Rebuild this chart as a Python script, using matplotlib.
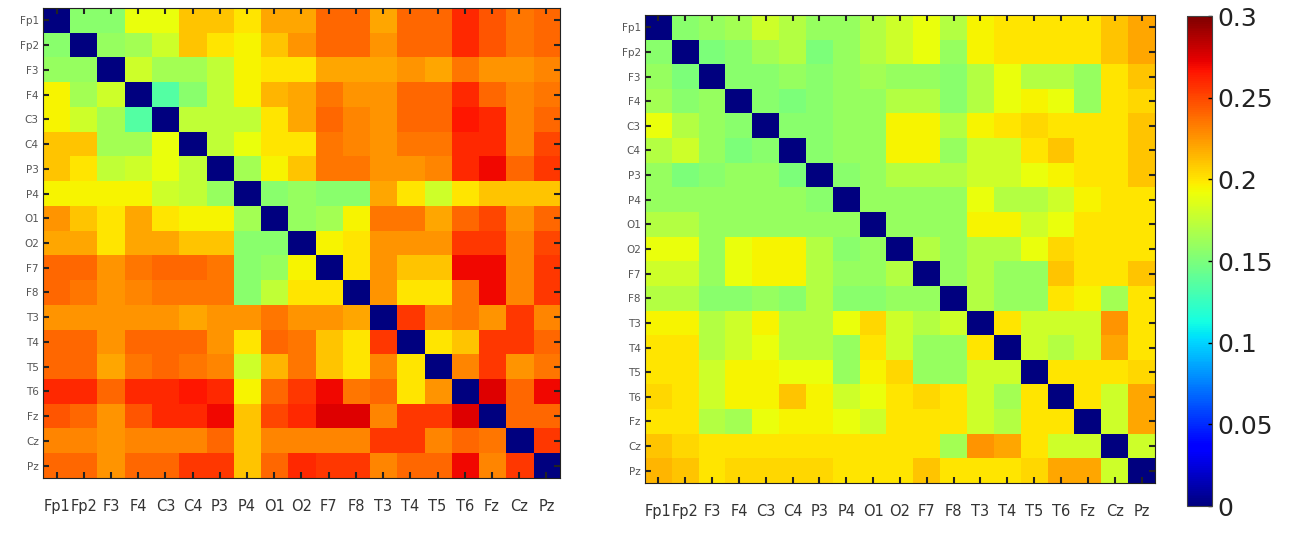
import numpy as np
import matplotlib
matplotlib.use("Agg")
import matplotlib.pyplot as plt

# EEG channels (same order on both axes)
channels = ["Fp1", "Fp2", "F3", "F4", "C3", "C4", "P3", "P4", "O1", "O2",
            "F7", "F8", "T3", "T4", "T5", "T6", "Fz", "Cz", "Pz"]

# left matrix, values
left_vals = [
    [0, .155, .155, .19, .19, .21, .21, .20, .22, .22, .24, .24, .22, .24, .24, .26, .245, .235, .24],
    [.155, 0, .16, .165, .18, .21, .20, .195, .21, .225, .24, .24, .225, .24, .24, .26, .245, .235, .24],
    [.16, .16, 0, .18, .165, .165, .175, .195, .20, .20, .22, .22, .22, .225, .22, .235, .225, .225, .23],
    [.195, .165, .18, 0, .135, .155, .175, .195, .215, .22, .235, .225, .225, .24, .24, .26, .24, .23, .235],
    [.195, .18, .165, .135, 0, .175, .175, .175, .20, .22, .24, .23, .225, .24, .24, .265, .26, .23, .24],
    [.21, .21, .165, .165, .19, 0, .175, .19, .20, .20, .235, .23, .225, .235, .235, .26, .26, .23, .25],
    [.21, .20, .175, .18, .19, .175, 0, .165, .195, .21, .235, .235, .225, .225, .23, .26, .27, .24, .255],
    [.195, .195, .195, .195, .18, .175, .16, 0, .155, .16, .155, .155, .22, .20, .18, .20, .21, .21, .21],
    [.225, .21, .20, .22, .20, .195, .195, .165, 0, .16, .165, .195, .235, .235, .22, .24, .25, .225, .24],
    [.22, .22, .20, .22, .22, .21, .21, .155, .155, 0, .195, .20, .225, .225, .225, .255, .255, .23, .25],
    [.24, .24, .225, .235, .24, .24, .235, .155, .16, .195, 0, .20, .225, .21, .21, .27, .27, .23, .255],
    [.24, .235, .225, .23, .235, .235, .235, .155, .175, .20, .20, 0, .225, .20, .20, .235, .27, .23, .255],
    [.225, .225, .225, .225, .225, .22, .225, .225, .235, .225, .225, .22, 0, .255, .23, .235, .225, .255, .23],
    [.24, .24, .225, .24, .24, .24, .225, .20, .24, .235, .21, .20, .255, 0, .20, .21, .255, .255, .24],
    [.24, .24, .22, .235, .24, .235, .23, .18, .215, .235, .21, .20, .23, .20, 0, .23, .255, .225, .235],
    [.26, .26, .24, .26, .26, .265, .26, .195, .24, .255, .27, .235, .24, .20, .225, 0, .275, .24, .27],
    [.245, .24, .225, .245, .26, .26, .27, .21, .25, .26, .275, .275, .23, .255, .255, .275, 0, .24, .24],
    [.23, .23, .225, .23, .23, .23, .24, .21, .23, .23, .23, .23, .255, .255, .23, .24, .235, 0, .255],
    [.24, .24, .225, .24, .24, .255, .255, .21, .24, .26, .255, .255, .23, .24, .24, .27, .23, .255, 0],
]

# right matrix
right_vals = [
    [0, .155, .16, .165, .18, .17, .16, .16, .17, .18, .19, .17, .195, .20, .20, .20, .20, .21, .22],
    [.155, 0, .15, .155, .165, .17, .15, .16, .17, .18, .19, .16, .195, .20, .20, .20, .20, .21, .22],
    [.16, .15, 0, .155, .155, .16, .155, .16, .165, .16, .16, .155, .17, .19, .17, .17, .16, .20, .21],
    [.165, .155, .16, 0, .155, .15, .155, .16, .16, .17, .17, .155, .17, .19, .195, .19, .16, .20, .205],
    [.19, .17, .16, .155, 0, .155, .155, .16, .16, .195, .195, .17, .195, .20, .205, .20, .20, .20, .21],
    [.17, .18, .16, .15, .155, 0, .155, .16, .16, .195, .195, .16, .18, .18, .20, .21, .20, .20, .21],
    [.16, .15, .155, .16, .16, .15, 0, .155, .16, .17, .17, .17, .18, .18, .19, .195, .20, .20, .21],
    [.16, .16, .16, .16, .16, .16, .155, 0, .16, .16, .16, .16, .19, .17, .17, .18, .195, .20, .20],
    [.17, .17, .16, .16, .16, .16, .16, .16, 0, .16, .16, .16, .195, .195, .18, .19, .20, .20, .20],
    [.19, .19, .16, .19, .195, .195, .17, .155, .16, 0, .17, .16, .17, .17, .19, .205, .20, .20, .20],
    [.18, .18, .16, .19, .195, .195, .17, .16, .16, .17, 0, .16, .17, .16, .16, .21, .20, .20, .21],
    [.17, .17, .155, .155, .16, .155, .17, .155, .155, .16, .16, 0, .17, .16, .16, .20, .195, .165, .20],
    [.195, .195, .17, .18, .195, .17, .17, .19, .205, .18, .17, .18, 0, .20, .18, .18, .18, .225, .20],
    [.20, .20, .17, .18, .19, .17, .17, .16, .20, .18, .16, .16, .20, 0, .18, .17, .18, .22, .20],
    [.20, .20, .18, .195, .195, .19, .19, .16, .195, .205, .16, .16, .18, .18, 0, .20, .20, .20, .205],
    [.205, .20, .18, .195, .195, .21, .195, .18, .19, .20, .205, .20, .18, .165, .20, 0, .20, .18, .22],
    [.20, .20, .17, .165, .19, .195, .195, .19, .18, .20, .20, .20, .18, .17, .20, .20, 0, .18, .22],
    [.21, .205, .20, .20, .20, .20, .20, .20, .20, .20, .20, .165, .225, .22, .20, .18, .18, 0, .18],
    [.215, .21, .20, .205, .205, .205, .205, .20, .20, .20, .21, .20, .20, .20, .205, .22, .22, .18, 0],
]

cbar_ticks = [0, 0.05, 0.1, 0.15, 0.2, 0.25, 0.3]

fig = plt.figure(figsize=(12.9, 5.34), dpi=100)

# axes placed by hand to match the picture
ax_l = fig.add_axes([0.0333, 0.1049, 0.4008, 0.8801])
ax_r = fig.add_axes([0.5, 0.0955, 0.3953, 0.8764])
cax = fig.add_axes([0.9202, 0.0524, 0.0194, 0.9176])

for ax, vals in [(ax_l, left_vals), (ax_r, right_vals)]:
    im = ax.imshow(np.array(vals), cmap="jet", vmin=0, vmax=0.3,
                   aspect="auto", interpolation="nearest")
    ax.set_xticks(range(len(channels)))
    ax.set_yticks(range(len(channels)))
    ax.set_xticklabels(channels, fontsize=10.5, color="#333333")
    ax.set_yticklabels(channels, fontsize=7.5, color="#555555")
    ax.tick_params(direction="in", top=True, right=True, length=4, width=1.5,
                   color="#222222", pad=3)
    ax.tick_params(axis="x", pad=15)
    for s in ax.spines.values():
        s.set_color("#222222")

cb = fig.colorbar(im, cax=cax, ticks=cbar_ticks)
cb.ax.set_yticklabels([f"{t:g}" for t in cbar_ticks], fontsize=18, color="#222222")
cb.ax.tick_params(direction="in", length=3, width=1)
cb.outline.set_color("#444444")

fig.savefig("out.png", dpi=100)
